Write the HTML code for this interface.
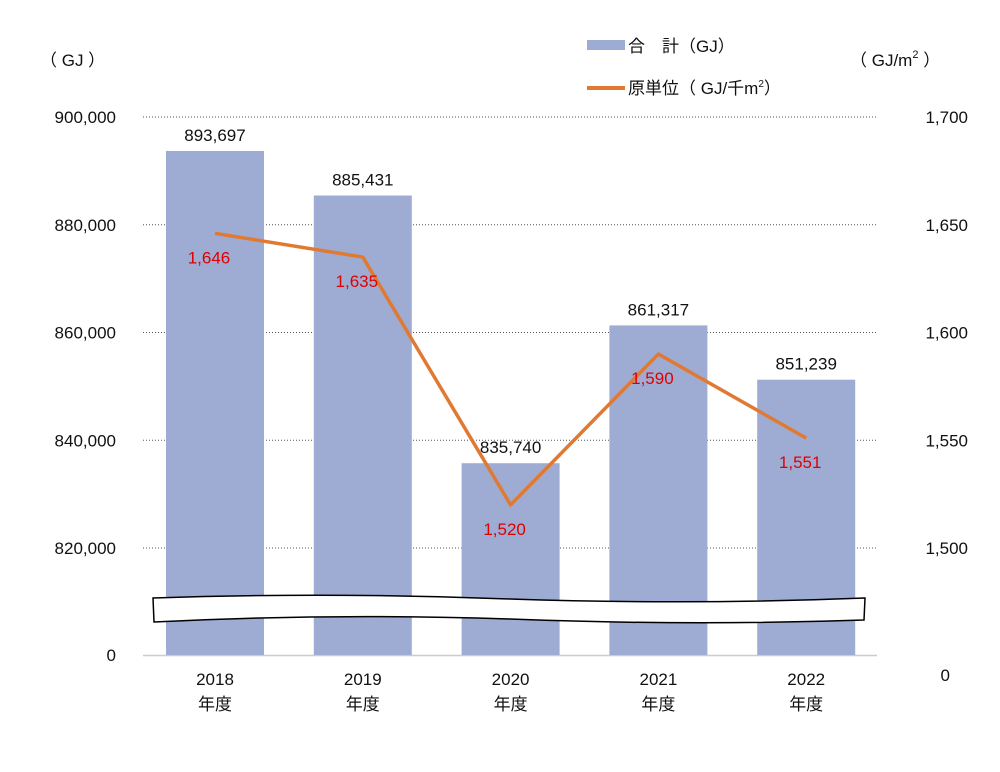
<!DOCTYPE html>
<html><head><meta charset="utf-8"><style>
body{margin:0;background:#fff}
svg text{font-family:"Liberation Sans","Noto Sans CJK JP",sans-serif;font-size:17px;fill:#111}
</style></head><body>
<svg width="1000" height="767">
<g id="grid"></g><g id="bars"></g><g id="brk"></g><g id="line"></g><g id="labels"></g>
<text x="40" y="66">（ GJ ）</text>
<text x="850" y="66">（ GJ/m<tspan dy="-8" font-size="11">2</tspan><tspan dy="8"> ）</tspan></text>
<rect x="587" y="40" width="38" height="10" fill="#9eacd4"/>
<text x="628" y="52">合　計（GJ）</text>
<line x1="587" y1="88" x2="625" y2="88" stroke="#e07a32" stroke-width="4"/>
<text x="628" y="94">原単位（ GJ/千m<tspan dy="-7" font-size="10">2</tspan><tspan dy="7">）</tspan></text>
</svg>
<script>
const categories=["2018","2019","2020","2021","2022"];
const totals=[893697,885431,835740,861317,851239];
const intensity=[1646,1635,1520,1590,1551];
const leftTicks=[820000,840000,860000,880000,900000];
const rightTicks=[1500,1550,1600,1650,1700];
const NS="http://www.w3.org/2000/svg";
function mk(t,a,p){const e=document.createElementNS(NS,t);for(const k in a)e.setAttribute(k,a[k]);document.getElementById(p).appendChild(e);return e;}
const yL=v=>117+(900000-v)/20000*107.75;
const yR=v=>117+(1700-v)/50*107.75;
const xC=i=>215+i*147.8;
const fmt=v=>v.toLocaleString("en-US");
leftTicks.forEach(v=>{
 const l=mk("line",{x1:143,x2:877,y1:yL(v),y2:yL(v),stroke:"#555","stroke-dasharray":"1 2","stroke-width":1},"grid");
 
 
 const t=mk("text",{x:116,y:yL(v)+6,"text-anchor":"end"},"labels");t.textContent=fmt(v);
 
 
});
rightTicks.forEach(v=>{
 const t=mk("text",{x:968,y:yR(v)+6,"text-anchor":"end"},"labels");t.textContent=fmt(v);
 
 
});
let t0=mk("text",{x:116,y:661,"text-anchor":"end"},"labels");t0.textContent="0";


let t1=mk("text",{x:950,y:681,"text-anchor":"end"},"labels");t1.textContent="0";


const ax=mk("line",{x1:143,x2:877,y1:655.5,y2:655.5,stroke:"#ccc","stroke-width":1.5},"grid");


categories.forEach((c,i)=>{
 const y=yL(totals[i]);
 const b=mk("rect",{x:xC(i)-49,y:y,width:98,height:655-y,fill:"#9eacd4"},"bars");
 
 
 const vl=mk("text",{x:xC(i),y:y-10,"text-anchor":"middle"},"labels");vl.textContent=fmt(totals[i]);
 
 
 const cl=mk("text",{x:xC(i),y:685,"text-anchor":"middle"},"labels");cl.textContent=c;
 
 
 const cl2=mk("text",{x:xC(i),y:710,"text-anchor":"middle"},"labels");cl2.textContent="年度";
 
 
 const il=mk("text",{x:xC(i)-6,y:yR(intensity[i])+30,"text-anchor":"middle",style:"fill:#e00000"},"labels");il.textContent=fmt(intensity[i]);
 
 
});
const br=mk("path",{d:"M153 598 Q330 592 510 599 Q690 605 865 598 L864 620 Q690 626 510 619 Q330 613 154 622 Z",fill:"#fff",stroke:"#000","stroke-width":1.5},"brk");


const pl=mk("polyline",{points:intensity.map((v,i)=>xC(i)+","+yR(v)).join(" "),fill:"none",stroke:"#e07a32","stroke-width":3.5,"stroke-linejoin":"round"},"line");


</script>
</body></html>
